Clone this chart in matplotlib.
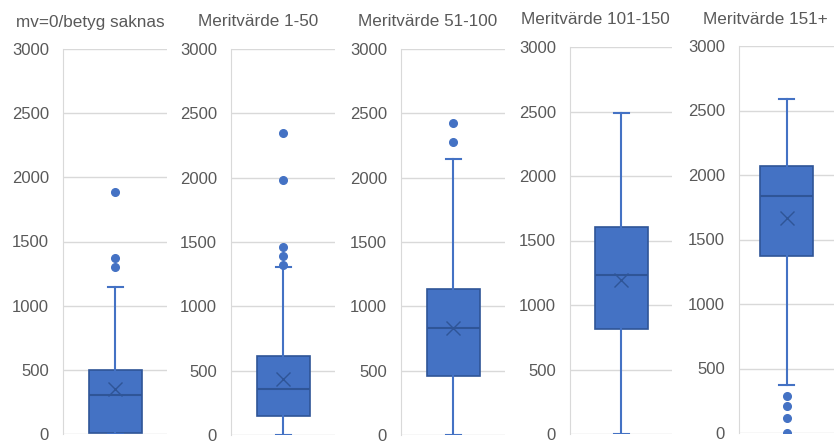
import matplotlib.pyplot as plt
import numpy as np

plt.rcParams['font.family'] = ['Liberation Sans', 'DejaVu Sans']

titles = ['mv=0/betyg saknas', 'Meritvärde 1-50', 'Meritvärde 51-100',
          'Meritvärde 101-150', 'Meritvärde 151+']
q1 = [10, 145, 455, 817, 1373]
med = [305, 357, 832, 1236, 1840]
q3 = [500, 615, 1137, 1608, 2073]
mean = [350, 434, 835, 1190, 1665]
whislo = [0, 0, 0, 0, 372]
whishi = [1145, 1305, 2144, 2488, 2592]
fliers = [[1886, 1374, 1301],
          [2351, 1984, 1463, 1395, 1320],
          [2426, 2279],
          [],
          [284, 206, 119, 0]]

# axes placement in pixels: (left, right, top, bottom)
boxes_px = [(63, 167, 49, 434), (231, 335, 49, 435), (401, 505, 49, 435),
            (570, 672, 47, 434), (739, 834, 46, 433)]
title_x = [90, 258, 428, 595, 765]
title_y = [22, 22, 22, 20, 19]

W, H = 834, 442
fig = plt.figure(figsize=(W / 100, H / 100), dpi=100)

fill = '#4472C4'
edge = '#2F5597'

for i in range(5):
    l, r, t, b = boxes_px[i]
    ax = fig.add_axes([l / W, 1 - b / H, (r - l) / W, (b - t) / H])
    stats = [dict(med=med[i], q1=q1[i], q3=q3[i], whislo=whislo[i],
                  whishi=whishi[i], mean=mean[i], fliers=fliers[i])]
    ax.bxp(stats, positions=[0.5], widths=53 / (r - l), capwidths=15 / (r - l),
           showmeans=True, patch_artist=True,
           boxprops=dict(facecolor=fill, edgecolor=edge, linewidth=1.2),
           medianprops=dict(color=edge, linewidth=1.5),
           whiskerprops=dict(color=fill, linewidth=1.5),
           capprops=dict(color=fill, linewidth=1.5),
           meanprops=dict(marker='x', markeredgecolor=edge, markersize=10,
                          markeredgewidth=1.0),
           flierprops=dict(marker='o', markerfacecolor=fill, markeredgecolor=fill,
                           markersize=5.5))
    ax.set_xlim(0, 1)
    ax.set_ylim(0, 3000)
    ax.set_yticks(np.arange(0, 3001, 500))
    ax.set_xticks([])
    ax.grid(axis='y', color='#d9d9d9', linewidth=1.0)
    ax.set_axisbelow(True)
    for s in ['top', 'right', 'bottom']:
        ax.spines[s].set_visible(False)
    ax.spines['left'].set_color('#d9d9d9')
    ax.tick_params(axis='y', length=0, pad=10, labelsize=12, labelcolor='#595959')
    ax.patch.set_alpha(0)
    fig.text(title_x[i] / W, 1 - title_y[i] / H, titles[i], ha='center',
             va='center', fontsize=12.3, color='#595959')

fig.savefig('out.png', dpi=100)
